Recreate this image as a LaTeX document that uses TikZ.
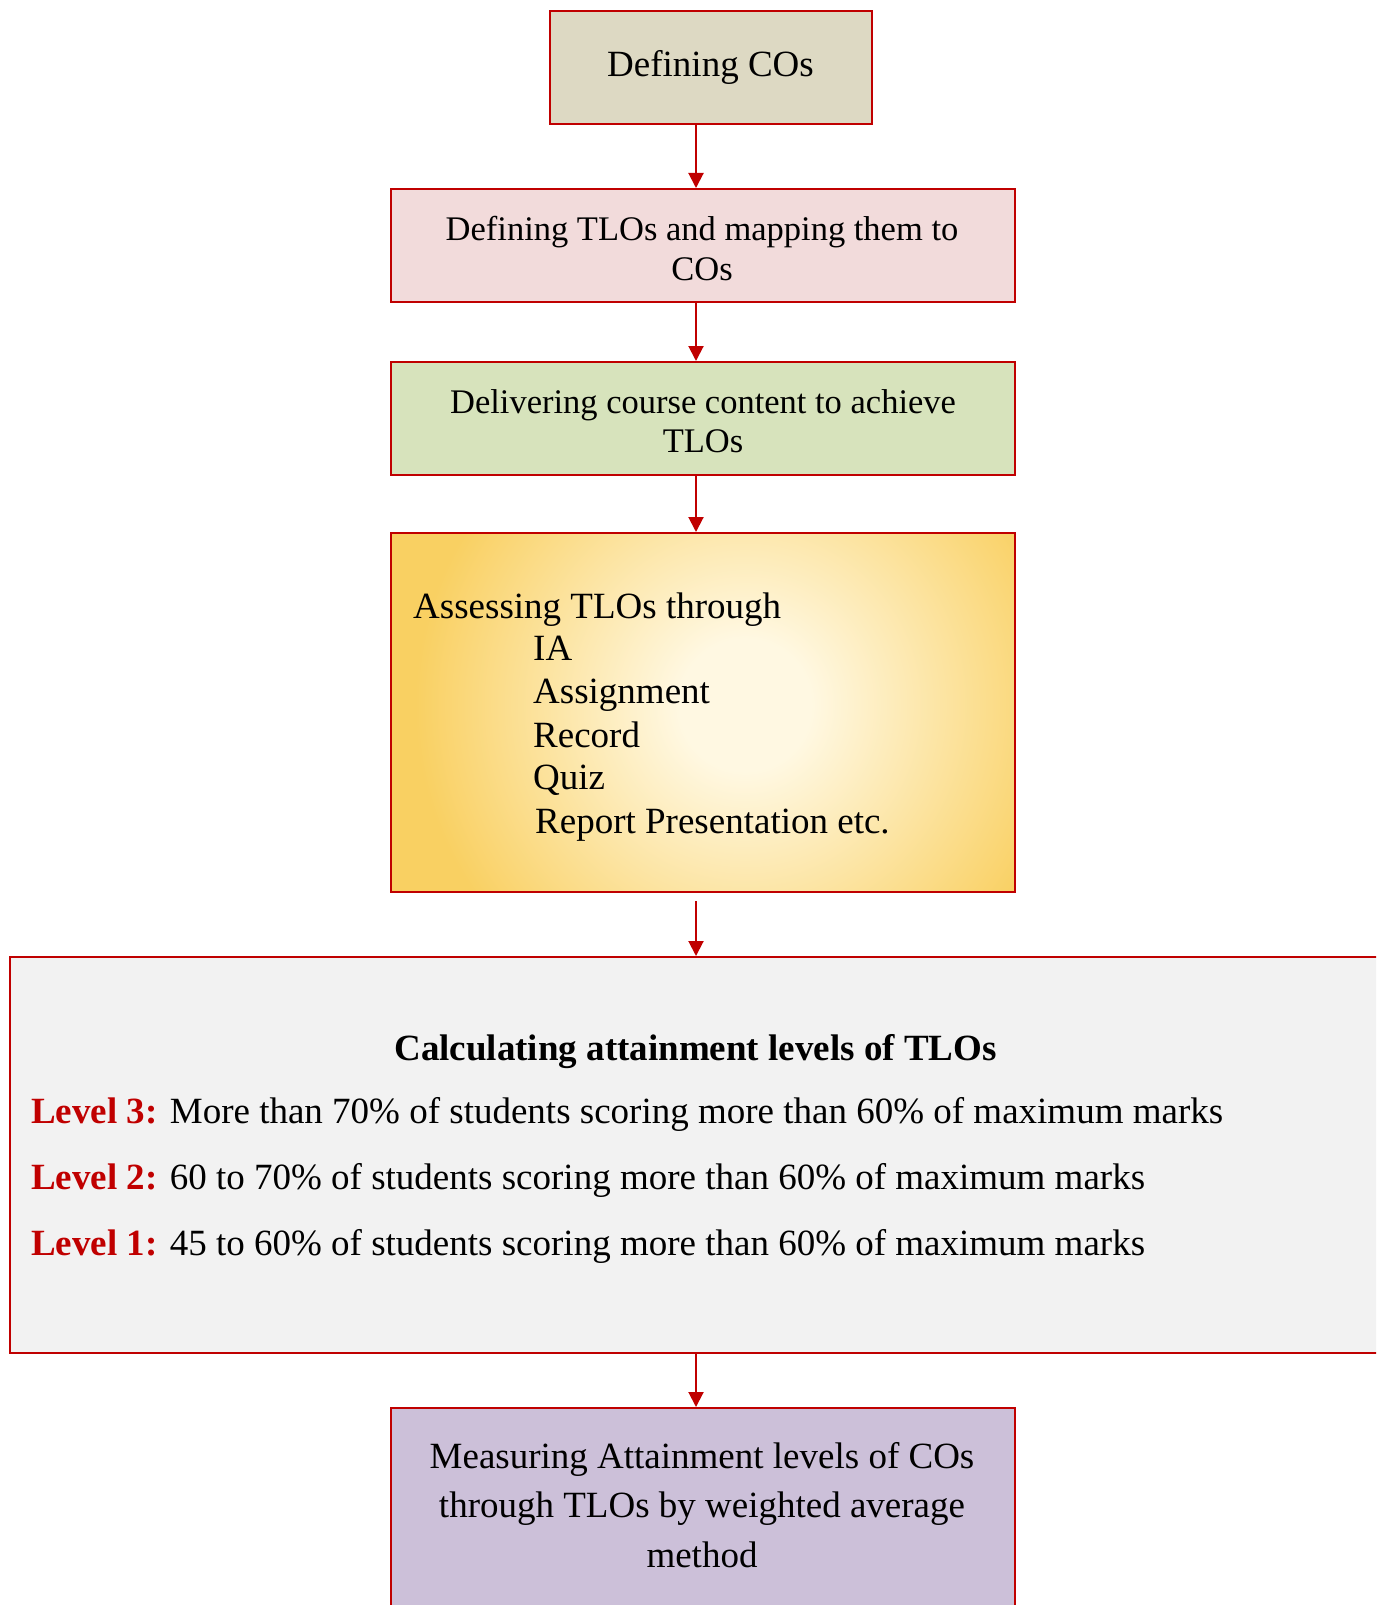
\documentclass[tikz,border=0pt]{standalone}
\usepackage{fontspec}
\setmainfont{Liberation Serif}
\usetikzlibrary{arrows.meta}

\definecolor{edgered}{HTML}{C00000}
\definecolor{tanfill}{HTML}{DDD9C3}
\definecolor{pinkfill}{HTML}{F2DBDB}
\definecolor{olivefill}{HTML}{D7E3BC}
\definecolor{goldfill}{HTML}{F9D062}
\definecolor{creamfill}{HTML}{FFF8E2}
\definecolor{greyfill}{HTML}{F2F2F2}
\definecolor{lilacfill}{HTML}{CCC0D9}

% radial glow: cream core that fades to gold at the rim
\pgfdeclareradialshading{goldglow}{\pgfpoint{0bp}{0bp}}{%
  color(0bp)=(creamfill); color(5bp)=(creamfill);
  color(25bp)=(goldfill); color(50bp)=(goldfill)}

\tikzset{
  box/.style={draw=edgered, line width=2pt, rectangle, inner sep=0pt},
  flow/.style={draw=edgered, line width=2pt,
    -{Triangle[width=15pt,length=15pt]}},
  txt/.style={inner sep=0pt, font=\fontsize{37}{43}\selectfont},
  smalltxt/.style={inner sep=0pt, font=\fontsize{34.5}{39}\selectfont},
  lvl/.style={text=edgered, font=\bfseries},
}

\begin{document}
\begin{tikzpicture}[x=1pt, y=-1pt]
\useasboundingbox (0,0) rectangle (1376,1605);
\clip (0,0) rectangle (1376,1605);

% connector column
\coordinate (ax) at (696,0);

% 1: defining COs
\node[box, fill=tanfill, minimum width=322pt, minimum height=113pt] (b1) at (711,67.5) {};
\node[txt, anchor=base] (t1) at (710.5,77) {Defining COs};

% 2: defining TLOs
\node[box, fill=pinkfill, minimum width=624pt, minimum height=113pt] (b2) at (703,245.5) {};
\node[smalltxt, anchor=base] (t2a) at (702,241) {Defining TLOs and mapping them to};
\node[smalltxt, anchor=base] (t2b) at (702,280) {COs};

% 3: delivering content
\node[box, fill=olivefill, minimum width=624pt, minimum height=113pt] (b3) at (703,418.5) {};
\node[smalltxt, anchor=base] (t3a) at (703,413) {Delivering course content to achieve};
\node[smalltxt, anchor=base] (t3b) at (703,452) {TLOs};

% 4: assessing, with a radial glow
\begin{scope}
  \clip (391,533) rectangle (1015,892);
  \fill[goldfill] (391,533) rectangle (1015,892);
  \shade[shading=goldglow] (745,705) circle (330);
\end{scope}
\node[box, minimum width=624pt, minimum height=359pt] (b4) at (703,712.5) {};
\node[txt, anchor=base west] (t4) at (413,618) {Assessing TLOs through};
\node[txt, anchor=base west] (t4a) at (533,660) {IA};
\node[txt, anchor=base west] (t4b) at (533,703) {Assignment};
\node[txt, anchor=base west] (t4c) at (533,747) {Record};
\node[txt, anchor=base west] (t4d) at (533,789) {Quiz};
\node[txt, anchor=base west] (t4e) at (535,833) {Report Presentation etc.};

% 5: attainment levels
\node[box, fill=greyfill, minimum width=1390pt, minimum height=396pt] (b5) at (705,1155) {};
\node[txt, anchor=base, font=\fontsize{37}{43}\selectfont\bfseries] (t5) at (695.5,1060) {Calculating attainment levels of TLOs};
\node[txt, anchor=base west] (l3) at (31,1123) {\textcolor{edgered}{\bfseries Level 3:} More than 70\% of students scoring more than 60\% of maximum marks};
\node[txt, anchor=base west] (l2) at (31,1189) {\textcolor{edgered}{\bfseries Level 2:} 60 to 70\% of students scoring more than 60\% of maximum marks};
\node[txt, anchor=base west] (l1) at (31,1255) {\textcolor{edgered}{\bfseries Level 1:} 45 to 60\% of students scoring more than 60\% of maximum marks};

% 6: measuring CO attainment
\node[box, fill=lilacfill, minimum width=624pt, minimum height=222pt] (b6) at (703,1519) {};
\node[txt, anchor=base] (t6a) at (702,1468) {Measuring Attainment levels of COs};
\node[txt, anchor=base] (t6b) at (702,1517) {through TLOs by weighted average};
\node[txt, anchor=base] (t6c) at (702,1567) {method};

% connectors
\draw[flow] (b1.south -| ax) -- (b2.north -| ax);
\draw[flow] (b2.south -| ax) -- (b3.north -| ax);
\draw[flow] (b3.south -| ax) -- (b4.north -| ax);
\draw[flow] ([yshift=-8pt]b4.south -| ax) -- (b5.north -| ax);
\draw[flow] (b5.south -| ax) -- (b6.north -| ax);
\end{tikzpicture}
\end{document}
